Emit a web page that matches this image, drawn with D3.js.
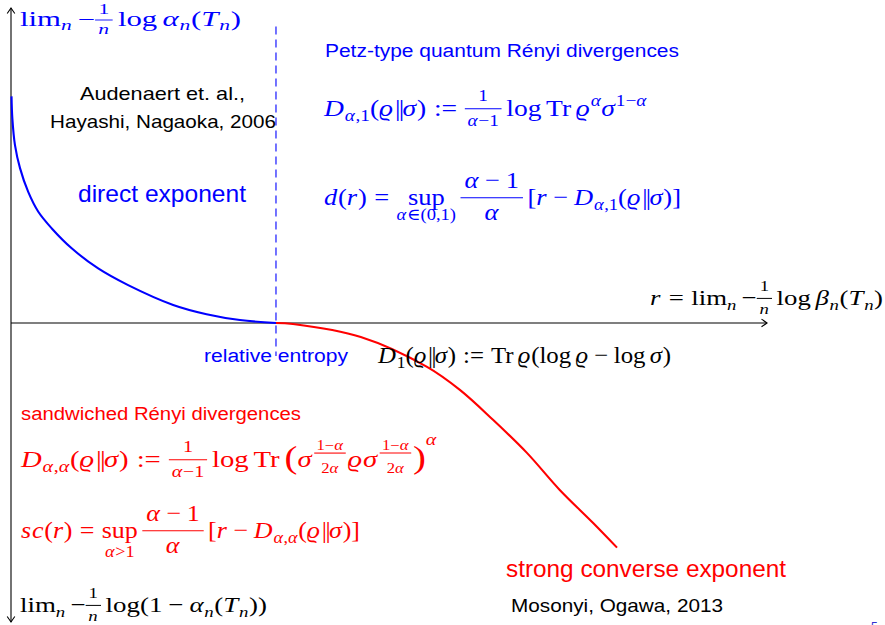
<!DOCTYPE html>
<html>
<head>
<meta charset="utf-8">
<script src="https://cdn.jsdelivr.net/npm/d3@7/dist/d3.min.js"></script>
<style>
  html, body { margin: 0; padding: 0; background: #fff; }
  svg { display: block; }
</style>
</head>
<body>
<svg id="chart" width="885" height="625"></svg>
<script>
// Error exponents of quantum hypothesis testing (schematic curves)
const relEntropy = 1.0;                 // D_1(rho||sigma) on the r axis
const rDomain = [0, 2.853];
const eDomain = [-1.13, 1.19];

// direct exponent d(r), 0 <= r <= D_1
const directR   = [0.002, 0.005, 0.015, 0.034, 0.065, 0.103, 0.154, 0.229, 0.329, 0.442, 0.612, 0.738, 0.864, 1.0];
const directExp = [0.856, 0.774, 0.672, 0.585, 0.495, 0.420, 0.357, 0.282, 0.206, 0.143, 0.068, 0.033, 0.011, 0.0];

// strong converse exponent sc(r), drawn downward, r >= D_1
const convR   = [1.0, 1.064, 1.32, 1.57, 1.694, 1.819, 1.947, 2.07, 2.196, 2.287];
const convExp = [0.0, -0.004, -0.053, -0.166, -0.253, -0.366, -0.491, -0.63, -0.755, -0.849];

const BLUE = "#0000ff", RED = "#ff0000", BLACK = "#000";
const SERIF = "'Liberation Serif','DejaVu Serif',serif";
const SANS = "'Liberation Sans','DejaVu Sans',sans-serif";

const svg = d3.select("#chart");
const x = d3.scaleLinear().domain(rDomain).range([11, 767]);
const y = d3.scaleLinear().domain(eDomain).range([622, 8]);

// ---- axes -------------------------------------------------------------
const ax = svg.append("g").attr("stroke", BLACK).attr("fill", "none").attr("stroke-width", 1.1);
ax.append("line").attr("x1", x(0)).attr("x2", x(0)).attr("y1", y(eDomain[0])).attr("y2", y(eDomain[1]));
ax.append("line").attr("x1", x(0)).attr("x2", x(rDomain[1])).attr("y1", y(0)).attr("y2", y(0));
function arrowHead(px, py, angle) {
  ax.append("path")
    .attr("d", "M-5.5,-3.8 Q-1.5,-1 0,0 Q-1.5,1 -5.5,3.8")
    .attr("transform", `translate(${px},${py}) rotate(${angle})`);
}
arrowHead(x(rDomain[1]), y(0), 0);
arrowHead(x(0), y(eDomain[1]), -90);
arrowHead(x(0), y(eDomain[0]), 90);

// relative entropy marker
svg.append("line")
  .attr("x1", x(relEntropy)).attr("x2", x(relEntropy))
  .attr("y1", y(1.12)).attr("y2", y(-0.125))
  .attr("stroke", BLUE).attr("stroke-width", 1.1).attr("stroke-dasharray", "8,5");

// ---- curves -----------------------------------------------------------
const line = d3.line().x(d => x(d[0])).y(d => y(d[1])).curve(d3.curveCatmullRom.alpha(0.5));
svg.append("path").datum(d3.zip(directR, directExp))
  .attr("d", line).attr("fill", "none").attr("stroke", BLUE).attr("stroke-width", 2.1);
svg.append("path").datum(d3.zip(convR, convExp))
  .attr("d", line).attr("fill", "none").attr("stroke", RED).attr("stroke-width", 2.1);

// ---- sans labels ------------------------------------------------------
function label(txt, x0, base, size, width, color) {
  svg.append("text").attr("x", x0).attr("y", base)
    .attr("font-family", SANS).attr("font-size", size).attr("fill", color)
    .attr("textLength", width).attr("lengthAdjust", "spacingAndGlyphs")
    .text(txt);
}
label("Audenaert et. al.,", 80, 100, 19, 165, BLACK);
label("Hayashi, Nagaoka, 2006", 50, 128, 19, 226, BLACK);
label("direct exponent", 78, 202, 24, 168, BLUE);
label("Petz-type quantum Rényi divergences", 325, 57, 18, 354, BLUE);
label("relative entropy", 204, 362, 18, 144, BLUE);
label("sandwiched Rényi divergences", 21, 420, 18, 280, RED);
label("strong converse exponent", 506, 577, 23, 280, RED);
label("Mosonyi, Ogawa, 2013", 511, 612, 19, 212, BLACK);
svg.append("text").attr("x", 871).attr("y", 631).attr("font-family", SANS)
  .attr("font-size", 12).attr("fill", "#3030d0").text("5");

// ---- small math typesetter -------------------------------------------
const I = t => ({ t, it: true });
const R = t => ({ t });
const sub = (...g) => ({ grp: g, sz: 0.7, dy: 0.22 });
const sup = (...g) => ({ grp: g, sz: 0.7, dy: -0.42 });
const tfrac = (n, d) => ({ frac: [n, d], k: 0.7, up: 0.62, down: 0.42, bar: 0.3, pad: 0.1 });
const dfrac = (n, d) => ({ frac: [n, d], k: 1, up: 0.72, down: 0.64, bar: 0.3, pad: 0.15 });
const under = (main, low, down) => ({ under: [main, low], k: 0.7, down: down || 0.66 });

function run(g, items, x0, base, fs, color) {
  let cx = x0;
  for (const it of items) {
    if (typeof it === "number") { cx += it * fs; continue; }
    const s = fs * (it.sz || 1), by = base + (it.dy || 0) * fs;
    if (it.t !== undefined) {
      const el = g.append("text").attr("x", cx).attr("y", by)
        .attr("font-size", s).attr("font-style", it.it ? "italic" : "normal")
        .attr("fill", color).text(it.t);
      if (it.ls !== undefined) el.attr("letter-spacing", it.ls);
      cx += el.node().getComputedTextLength() + (it.it ? 0.03 * s : 0);
    } else if (it.grp) {
      cx = run(g, it.grp, cx, by, s, color);
    } else if (it.frac) {
      const gn = g.append("g"), gd = g.append("g");
      const wn = run(gn, it.frac[0], 0, by - it.up * s, s * it.k, color);
      const wd = run(gd, it.frac[1], 0, by + it.down * s, s * it.k, color);
      const w = Math.max(wn, wd) + 2 * it.pad * s;
      gn.attr("transform", `translate(${cx + (w - wn) / 2},0)`);
      gd.attr("transform", `translate(${cx + (w - wd) / 2},0)`);
      g.append("line").attr("x1", cx).attr("x2", cx + w)
        .attr("y1", by - it.bar * s).attr("y2", by - it.bar * s)
        .attr("stroke", color).attr("stroke-width", Math.max(0.8, 0.045 * s));
      cx += w;
    } else if (it.under) {
      const gm = g.append("g"), gl = g.append("g");
      const wm = run(gm, it.under[0], 0, by, s, color);
      const wl = run(gl, it.under[1], 0, by + it.down * s, s * it.k, color);
      const w = Math.max(wm, wl);
      gm.attr("transform", `translate(${cx + (w - wm) / 2},0)`);
      gl.attr("transform", `translate(${cx + (w - wl) / 2},0)`);
      cx += w;
    }
  }
  return cx;
}

// lays out a formula at (x0, base) and stretches it horizontally to the given width
function formula(items, x0, base, fs, width, color) {
  const g = svg.append("g").attr("font-family", SERIF);
  const inner = g.append("g");
  const w = run(inner, items, 0, 0, fs, color);
  const sx = width / w;
  g.attr("transform", `translate(${x0},${base}) scale(${sx},1)`);
}

const th = 0.17, md = 0.22, tk = 0.28;   // thin / medium / thick spaces
const rhoSigma = [R("("), I("ϱ"), 0.04, { t: "||", ls: -1.5 }, I("σ"), R(")")];
const limN = [R("lim"), sub(I("n")), th, R("−"), tfrac([R("1")], [I("n")]), th, R("log"), th];

formula([...limN, I("α"), sub(I("n")), R("("), I("T"), sub(I("n")), R(")")],
  20, 26, 20, 221, BLUE);

formula([I("D"), sub(I("α"), R(","), R("1")), ...rhoSigma, tk, R(":="), tk,
  tfrac([R("1")], [I("α"), R("−"), R("1")]), th, R("log"), th, R("Tr"), th,
  I("ϱ"), sup(I("α")), I("σ"), sup(R("1"), R("−"), I("α"))],
  324, 116, 24, 323, BLUE);

formula([I("d"), R("("), I("r"), R(")"), tk, R("="), tk,
  under([R("sup")], [I("α"), R("∈"), R("(0,1)")], 0.64), th,
  dfrac([I("α"), md, R("−"), md, R("1")], [I("α")]), th,
  R("["), I("r"), md, R("−"), md, I("D"), sub(I("α"), R(","), R("1")), ...rhoSigma, R("]")],
  324, 205, 24, 357, BLUE);

formula([I("r"), tk, R("="), tk, ...limN, I("β"), sub(I("n")), R("("), I("T"), sub(I("n")), R(")")],
  650, 305, 22, 233, BLACK);

formula([I("D"), sub(R("1")), ...rhoSigma, tk, R(":="), tk, R("Tr"), th, I("ϱ"), R("(log"), th,
  I("ϱ"), md, R("−"), md, R("log"), th, I("σ"), R(")")],
  378, 363, 24, 293, BLACK);

const expFrac = { frac: [[R("1"), R("−"), I("α")], [R("2"), I("α")]], k: 0.58, up: 0.72, down: 0.24, bar: 0.58, pad: 0.08 };
formula([I("D"), sub(I("α"), R(","), I("α")), ...rhoSigma, tk, R(":="), tk,
  tfrac([R("1")], [I("α"), R("−"), R("1")]), th, R("log"), th, R("Tr"), th,
  { t: "(", sz: 1.35, dy: 0.06 }, I("σ"), 0.06, expFrac, 0.06, I("ϱ"), I("σ"), 0.06, expFrac, 0.06,
  { t: ")", sz: 1.35, dy: 0.06 }, { grp: [I("α")], sz: 0.7, dy: -0.9 }],
  21, 467, 24, 416, RED);

formula([I("s"), I("c"), R("("), I("r"), R(")"), tk, R("="), tk,
  under([R("sup")], [I("α"), R(">"), R("1")], 0.78), th,
  dfrac([I("α"), md, R("−"), md, R("1")], [I("α")]), th,
  R("["), I("r"), md, R("−"), md, I("D"), sub(I("α"), R(","), I("α")), ...rhoSigma, R("]")],
  21, 538, 24, 339, RED);

formula([R("lim"), sub(I("n")), th, R("−"), tfrac([R("1")], [I("n")]), th, R("log(1"), md, R("−"), md,
  I("α"), sub(I("n")), R("("), I("T"), sub(I("n")), R("))")],
  20, 612, 22, 247, BLACK);
</script>
</body>
</html>
